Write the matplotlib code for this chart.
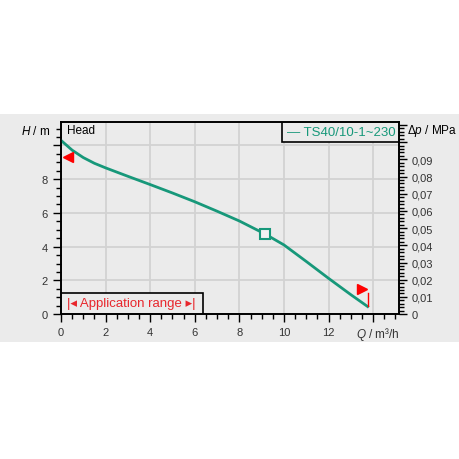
import numpy as np
import matplotlib.pyplot as plt
from matplotlib.patches import Rectangle
from matplotlib.ticker import FixedLocator, MultipleLocator, FuncFormatter

plt.rcParams['font.family'] = ['Liberation Sans', 'DejaVu Sans']
plt.rcParams['mathtext.fontset'] = 'custom'
plt.rcParams['mathtext.it'] = 'Liberation Sans:italic'
plt.rcParams['mathtext.rm'] = 'Liberation Sans'

# pump curve
q = [0, 0.5, 1, 1.5, 2, 3, 4, 5, 6, 7, 8, 9.15, 10, 11, 12, 13, 13.75]
h = [10.3, 9.72, 9.28, 8.94, 8.67, 8.17, 7.68, 7.18, 6.66, 6.1, 5.52, 4.75, 4.1, 3.12, 2.12, 1.15, 0.45]
duty_q, duty_h = 9.15, 4.75
range_lo = (0.3, 9.3)
range_hi = (13.5, 1.48)
qmax = 13.78
curve_name = 'TS40/10-1~230'

teal = '#17987a'
grey_bg = '#ebebeb'
txt = '#333333'

fig = plt.figure(figsize=(4.6, 4.6), dpi=100)
fig.patches.append(Rectangle((0, 0.254), 1, 0.496, transform=fig.transFigure,
                             facecolor=grey_bg, edgecolor='none', zorder=-5))
ax = fig.add_axes([0.1326, 0.315, 0.7344, 0.418])
ax.set_facecolor(grey_bg)
ax.set_xlim(0, 15.15)
ax.set_ylim(0, 11.4)

ax.xaxis.set_major_locator(MultipleLocator(2))
ax.xaxis.set_minor_locator(MultipleLocator(0.5))
ax.yaxis.set_major_locator(MultipleLocator(2))
ax.yaxis.set_minor_locator(MultipleLocator(0.5))
ax.xaxis.set_major_formatter(FuncFormatter(lambda v, p: '' if v > 13 else '%d' % v))
ax.yaxis.set_major_formatter(FuncFormatter(lambda v, p: '' if v > 9 else '%d' % v))
ax.grid(True, which='major', color='#d2d2d2', lw=1.3)
ax.set_axisbelow(True)
ax.tick_params(which='major', length=6, width=1, labelsize=8, colors='black', labelcolor=txt)
ax.tick_params(which='minor', length=3.5, width=1, colors='black')
for s in ax.spines.values():
    s.set_linewidth(1.2)

ax.plot(q, h, color=teal, lw=2, zorder=3)
ax.plot([duty_q], [duty_h], marker='s', ms=6.5, mfc='#f2f2f2', mec=teal, mew=1.5, zorder=4)
ax.plot(*range_lo, marker='<', ms=7.5, color='red', mec='red', zorder=5)
ax.plot(*range_hi, marker='>', ms=7.5, color='red', mec='red', zorder=5)
ax.plot([qmax, qmax], [0.5, 1.25], color='red', lw=1, zorder=5)

# pressure axis
ax2 = ax.twinx()
ax2.set_ylim(0, 11.4 * 0.00981)
ax2.yaxis.set_major_locator(FixedLocator(np.arange(0, 0.111, 0.01)))
ax2.yaxis.set_minor_locator(MultipleLocator(0.002))
ax2.yaxis.set_major_formatter(FuncFormatter(
    lambda v, p: '' if v > 0.095 else ('0' if v < 0.001 else ('%.2f' % v).replace('.', ','))))
ax2.tick_params(which='major', length=6, width=1, labelsize=8, labelcolor=txt)
ax2.tick_params(which='minor', length=3.5, width=1)
for s in ax2.spines.values():
    s.set_linewidth(1.2)

# boxes
ax.add_patch(Rectangle((0, 0), 6.35, 1.28, facecolor=grey_bg, edgecolor='black', lw=1.2, zorder=6))
ax.text(3.17, 0.64, '|◂ Application range ▸|', color='#e8262c', fontsize=9.5,
        ha='center', va='center', zorder=7)
ax.text(0.25, 10.9, 'Head', fontsize=8.5, color='black', ha='left', va='center')
ax.add_patch(Rectangle((9.9, 10.21), 5.25, 1.19, facecolor=grey_bg, edgecolor='black',
                       lw=1.2, zorder=6))
ax.text(10.15, 10.8, '— ' + curve_name, fontsize=9.5, color=teal, ha='left', va='center',
        zorder=7)

fig.text(0.11, 0.715, '$H$ / m', fontsize=8.5, color='black', ha='right', va='center')
fig.text(0.884, 0.715, '$\\Delta p$ / MPa', fontsize=8.5, color='black', ha='left', va='center')
fig.text(0.87, 0.273, '$Q$ / m³/h', fontsize=8.5, color=txt, ha='right', va='center')

fig.savefig('out.png', dpi=100)
